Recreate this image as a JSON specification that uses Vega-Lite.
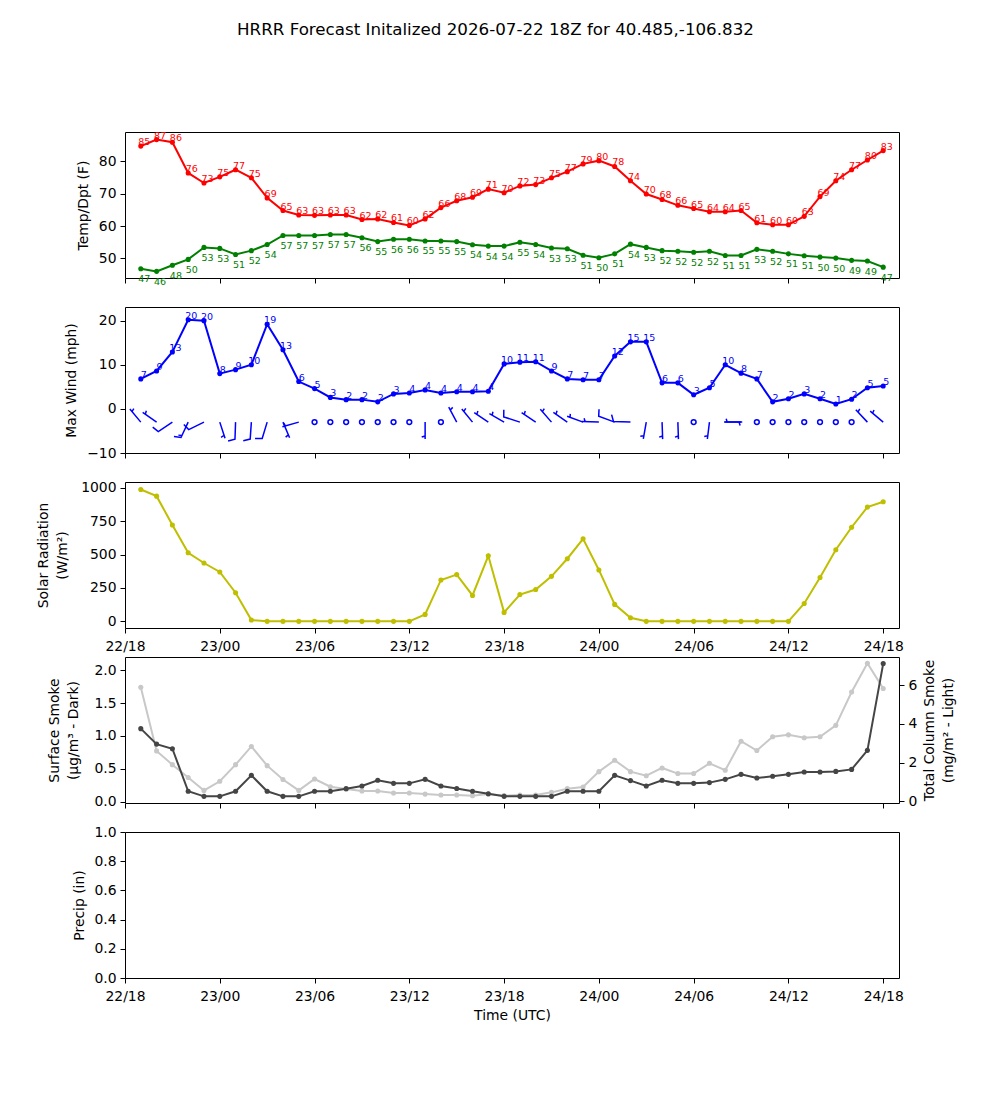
{
"$schema":"https://vega.github.io/schema/vega-lite/v6.json",
"title":{"text":"HRRR Forecast Initalized 2026-07-22 18Z for 40.485,-106.832","fontSize":16.7,"fontWeight":"normal","font":"DejaVu Sans","anchor":"middle","offset":91,"color":"#000"},
"padding":{"left":35,"top":22,"right":5,"bottom":5},
"config":{"font":"DejaVu Sans","view":{"stroke":"#000","strokeWidth":1},
"axis":{"grid":false,"domain":false,"tickColor":"#000","tickSize":5,"tickWidth":1,"labelFontSize":13.9,"labelColor":"#000","labelPadding":4,"titleFontSize":13.9,"titleFontWeight":"normal","titleColor":"#000","labelFont":"DejaVu Sans","titleFont":"DejaVu Sans","titleLineHeight":19},
"axisX":{"labelPadding":6}},
"datasets":{"d":[
{"t":"2026-07-22T19:00","temp":84.7,"dew":46.8,"wind":6.8,"solar":988,"smk":1.11,"col":5.9,"dir":320,"bk":"5"},
{"t":"2026-07-22T20:00","temp":86.7,"dew":46.0,"wind":8.6,"solar":938,"smk":0.875,"col":2.61,"dir":305,"bk":"5"},
{"t":"2026-07-22T21:00","temp":85.9,"dew":47.9,"wind":12.9,"solar":722,"smk":0.805,"col":1.90,"dir":236,"bk":"10"},
{"t":"2026-07-22T22:00","temp":76.4,"dew":49.7,"wind":20.2,"solar":514,"smk":0.157,"col":1.24,"dir":205,"bk":"15"},
{"t":"2026-07-22T23:00","temp":73.3,"dew":53.4,"wind":20.0,"solar":437,"smk":0.08,"col":0.57,"dir":244,"bk":"10"},
{"t":"2026-07-23T00:00","temp":75.2,"dew":53.1,"wind":8.0,"solar":370,"smk":0.08,"col":1.04,"dir":162,"bk":"5"},
{"t":"2026-07-23T01:00","temp":77.4,"dew":51.2,"wind":8.9,"solar":214,"smk":0.157,"col":1.90,"dir":182,"bk":"10"},
{"t":"2026-07-23T02:00","temp":74.9,"dew":52.4,"wind":10.0,"solar":10,"smk":0.40,"col":2.84,"dir":184,"bk":"10"},
{"t":"2026-07-23T03:00","temp":68.7,"dew":54.3,"wind":19.2,"solar":0,"smk":0.157,"col":1.85,"dir":197,"bk":"10"},
{"t":"2026-07-23T04:00","temp":64.8,"dew":57.1,"wind":13.4,"solar":0,"smk":0.08,"col":1.13,"dir":157,"bk":"5"},
{"t":"2026-07-23T05:00","temp":63.4,"dew":57.1,"wind":6.2,"solar":0,"smk":0.08,"col":0.57,"dir":254,"bk":"5"},
{"t":"2026-07-23T06:00","temp":63.3,"dew":57.1,"wind":4.6,"solar":0,"smk":0.157,"col":1.16,"dir":0,"bk":"c"},
{"t":"2026-07-23T07:00","temp":63.4,"dew":57.4,"wind":2.6,"solar":0,"smk":0.157,"col":0.76,"dir":0,"bk":"c"},
{"t":"2026-07-23T08:00","temp":63.4,"dew":57.4,"wind":2.1,"solar":0,"smk":0.197,"col":0.64,"dir":0,"bk":"c"},
{"t":"2026-07-23T09:00","temp":62.0,"dew":56.4,"wind":2.1,"solar":0,"smk":0.237,"col":0.54,"dir":0,"bk":"c"},
{"t":"2026-07-23T10:00","temp":62.2,"dew":55.2,"wind":1.6,"solar":0,"smk":0.324,"col":0.54,"dir":0,"bk":"c"},
{"t":"2026-07-23T11:00","temp":61.1,"dew":55.9,"wind":3.4,"solar":0,"smk":0.278,"col":0.44,"dir":0,"bk":"c"},
{"t":"2026-07-23T12:00","temp":60.2,"dew":55.9,"wind":3.6,"solar":0,"smk":0.278,"col":0.44,"dir":0,"bk":"c"},
{"t":"2026-07-23T13:00","temp":62.2,"dew":55.4,"wind":4.3,"solar":52,"smk":0.339,"col":0.38,"dir":180,"bk":"5"},
{"t":"2026-07-23T14:00","temp":65.7,"dew":55.4,"wind":3.6,"solar":310,"smk":0.237,"col":0.33,"dir":0,"bk":"c"},
{"t":"2026-07-23T15:00","temp":67.8,"dew":55.2,"wind":3.9,"solar":350,"smk":0.20,"col":0.33,"dir":332,"bk":"5"},
{"t":"2026-07-23T16:00","temp":68.9,"dew":54.2,"wind":3.9,"solar":194,"smk":0.157,"col":0.30,"dir":321,"bk":"5"},
{"t":"2026-07-23T17:00","temp":71.4,"dew":53.8,"wind":4.0,"solar":491,"smk":0.12,"col":0.38,"dir":304,"bk":"5"},
{"t":"2026-07-23T18:00","temp":70.3,"dew":53.8,"wind":10.2,"solar":67,"smk":0.08,"col":0.30,"dir":300,"bk":"5"},
{"t":"2026-07-23T19:00","temp":72.4,"dew":55.0,"wind":10.6,"solar":201,"smk":0.08,"col":0.33,"dir":288,"bk":"10"},
{"t":"2026-07-23T20:00","temp":72.8,"dew":54.3,"wind":10.7,"solar":238,"smk":0.08,"col":0.33,"dir":304,"bk":"5"},
{"t":"2026-07-23T21:00","temp":74.9,"dew":53.2,"wind":8.6,"solar":337,"smk":0.08,"col":0.47,"dir":319,"bk":"5"},
{"t":"2026-07-23T22:00","temp":76.8,"dew":53.0,"wind":6.8,"solar":469,"smk":0.157,"col":0.66,"dir":305,"bk":"5"},
{"t":"2026-07-23T23:00","temp":79.2,"dew":51.0,"wind":6.6,"solar":618,"smk":0.157,"col":0.75,"dir":290,"bk":"5"},
{"t":"2026-07-24T00:00","temp":80.2,"dew":50.2,"wind":6.6,"solar":385,"smk":0.157,"col":1.54,"dir":272,"bk":"5"},
{"t":"2026-07-24T01:00","temp":78.4,"dew":51.4,"wind":12.0,"solar":127,"smk":0.40,"col":2.13,"dir":290,"bk":"10"},
{"t":"2026-07-24T02:00","temp":74.0,"dew":54.4,"wind":15.2,"solar":27,"smk":0.32,"col":1.54,"dir":272,"bk":"10"},
{"t":"2026-07-24T03:00","temp":69.9,"dew":53.4,"wind":15.2,"solar":0,"smk":0.237,"col":1.33,"dir":190,"bk":"5"},
{"t":"2026-07-24T04:00","temp":68.2,"dew":52.4,"wind":5.9,"solar":0,"smk":0.324,"col":1.73,"dir":178,"bk":"5"},
{"t":"2026-07-24T05:00","temp":66.4,"dew":52.2,"wind":5.9,"solar":0,"smk":0.278,"col":1.44,"dir":178,"bk":"5"},
{"t":"2026-07-24T06:00","temp":65.4,"dew":51.9,"wind":3.2,"solar":0,"smk":0.278,"col":1.44,"dir":0,"bk":"c"},
{"t":"2026-07-24T07:00","temp":64.4,"dew":52.2,"wind":4.8,"solar":0,"smk":0.289,"col":1.97,"dir":187,"bk":"5"},
{"t":"2026-07-24T08:00","temp":64.4,"dew":50.9,"wind":10.0,"solar":0,"smk":0.339,"col":1.61,"dir":90,"bk":"5"},
{"t":"2026-07-24T09:00","temp":64.8,"dew":50.9,"wind":8.1,"solar":0,"smk":0.415,"col":3.11,"dir":270,"bk":"5"},
{"t":"2026-07-24T10:00","temp":61.0,"dew":52.8,"wind":6.8,"solar":0,"smk":0.359,"col":2.63,"dir":0,"bk":"c"},
{"t":"2026-07-24T11:00","temp":60.4,"dew":52.2,"wind":1.6,"solar":0,"smk":0.385,"col":3.34,"dir":0,"bk":"c"},
{"t":"2026-07-24T12:00","temp":60.4,"dew":51.4,"wind":2.3,"solar":0,"smk":0.415,"col":3.44,"dir":0,"bk":"c"},
{"t":"2026-07-24T13:00","temp":63.0,"dew":50.8,"wind":3.4,"solar":134,"smk":0.45,"col":3.29,"dir":0,"bk":"c"},
{"t":"2026-07-24T14:00","temp":69.1,"dew":50.4,"wind":2.3,"solar":328,"smk":0.45,"col":3.34,"dir":0,"bk":"c"},
{"t":"2026-07-24T15:00","temp":74.0,"dew":50.1,"wind":1.1,"solar":536,"smk":0.46,"col":3.93,"dir":0,"bk":"c"},
{"t":"2026-07-24T16:00","temp":77.4,"dew":49.4,"wind":2.2,"solar":705,"smk":0.49,"col":5.65,"dir":0,"bk":"c"},
{"t":"2026-07-24T17:00","temp":80.4,"dew":49.2,"wind":4.8,"solar":856,"smk":0.78,"col":7.14,"dir":317,"bk":"5"},
{"t":"2026-07-24T18:00","temp":83.3,"dew":47.3,"wind":5.2,"solar":896,"smk":2.10,"col":5.83,"dir":310,"bk":"5"}
]},
"spacing":29,
"bounds":"flush",
"vconcat":[
{"width":774,"height":146,"data":{"name":"d"},
"encoding":{"x":{"field":"t","type":"temporal","title":null,"scale":{"domain":[{"year":2026,"month":7,"date":22,"hours":18},{"year":2026,"month":7,"date":24,"hours":19}]},"axis":{"labels":false,"title":null,"values":[{"year":2026,"month":7,"date":22,"hours":18},{"year":2026,"month":7,"date":23,"hours":0},{"year":2026,"month":7,"date":23,"hours":6},{"year":2026,"month":7,"date":23,"hours":12},{"year":2026,"month":7,"date":23,"hours":18},{"year":2026,"month":7,"date":24,"hours":0},{"year":2026,"month":7,"date":24,"hours":6},{"year":2026,"month":7,"date":24,"hours":12},{"year":2026,"month":7,"date":24,"hours":18}]}}},
"layer":[
{"mark":{"type":"line","color":"#ff0000","strokeWidth":2,"point":{"filled":true,"size":26,"color":"#ff0000"}},"encoding":{"y":{"field":"temp","type":"quantitative","scale":{"domain":[43.95,89.05],"nice":false,"zero":false},"axis":{"values":[50,60,70,80],"title":"Temp/Dpt (F)","titleX":-42,"titleBaseline":"middle"}}}},
{"mark":{"type":"line","color":"#008000","strokeWidth":2,"point":{"filled":true,"size":26,"color":"#008000"}},"encoding":{"y":{"field":"dew","type":"quantitative","scale":{"domain":[43.95,89.05],"nice":false,"zero":false},"axis":{"values":[50,60,70,80],"title":"Temp/Dpt (F)","titleX":-42,"titleBaseline":"middle"}}}},
{"mark":{"type":"text","color":"#ff0000","dx":3.5,"dy":-4,"fontSize":9.5},"encoding":{"y":{"field":"temp","type":"quantitative","scale":{"domain":[43.95,89.05],"nice":false,"zero":false},"axis":{"values":[50,60,70,80],"title":"Temp/Dpt (F)","titleX":-42,"titleBaseline":"middle"}},"text":{"field":"temp","type":"quantitative","format":".0f"}}},
{"mark":{"type":"text","color":"#008000","dx":3.5,"dy":10.5,"fontSize":9.5},"encoding":{"y":{"field":"dew","type":"quantitative","scale":{"domain":[43.95,89.05],"nice":false,"zero":false},"axis":{"values":[50,60,70,80],"title":"Temp/Dpt (F)","titleX":-42,"titleBaseline":"middle"}},"text":{"field":"dew","type":"quantitative","format":".0f"}}}
]},
{"width":774,"height":146,"data":{"name":"d"},
"encoding":{"x":{"field":"t","type":"temporal","title":null,"scale":{"domain":[{"year":2026,"month":7,"date":22,"hours":18},{"year":2026,"month":7,"date":24,"hours":19}]},"axis":{"labels":false,"title":null,"values":[{"year":2026,"month":7,"date":22,"hours":18},{"year":2026,"month":7,"date":23,"hours":0},{"year":2026,"month":7,"date":23,"hours":6},{"year":2026,"month":7,"date":23,"hours":12},{"year":2026,"month":7,"date":23,"hours":18},{"year":2026,"month":7,"date":24,"hours":0},{"year":2026,"month":7,"date":24,"hours":6},{"year":2026,"month":7,"date":24,"hours":12},{"year":2026,"month":7,"date":24,"hours":18}]}}},
"layer":[
{"mark":{"type":"line","color":"#0000ff","strokeWidth":2,"point":{"filled":true,"size":26,"color":"#0000ff"}},"encoding":{"y":{"field":"wind","type":"quantitative","scale":{"domain":[-10,23.1],"nice":false,"zero":false},"axis":{"values":[-10,0,10,20],"title":"Max Wind (mph)","titleX":-54,"titleBaseline":"middle"}}}},
{"mark":{"type":"text","color":"#0000ff","dx":3,"dy":-4,"fontSize":9.5},"encoding":{"y":{"field":"wind","type":"quantitative","scale":{"domain":[-10,23.1],"nice":false,"zero":false},"axis":{"values":[-10,0,10,20],"title":"Max Wind (mph)","titleX":-54,"titleBaseline":"middle"}},"text":{"field":"wind","type":"quantitative","format":".0f"}}},
{"transform":[{"filter":"datum.bk != 'c'"}],"mark":{"type":"point","filled":false,"color":"#0000ff","strokeWidth":1.5,"size":1156,"opacity":1},"encoding":{"y":{"datum":-3,"type":"quantitative","scale":{"domain":[-10,23.1],"nice":false,"zero":false},"axis":{"values":[-10,0,10,20],"title":"Max Wind (mph)","titleX":-54,"titleBaseline":"middle"}},"shape":{"field":"bk","type":"nominal","legend":null,"scale":{"domain":["5","10","15","20"],"range":["M0,0L0,-1M0,-0.8125L0.2,-0.875","M0,0L0,-1L0.4,-1.125","M0,0L0,-1L0.4,-1.125M0,-0.875L0.2,-0.9375","M0,0L0,-1L0.4,-1.125M0,-0.875L0.4,-1"]}},"angle":{"field":"dir","type":"quantitative","scale":null}}},
{"transform":[{"filter":"datum.bk == 'c'"}],"mark":{"type":"point","shape":"circle","filled":false,"color":"#0000ff","strokeWidth":1.5,"size":23,"opacity":1},"encoding":{"y":{"datum":-3,"type":"quantitative","scale":{"domain":[-10,23.1],"nice":false,"zero":false},"axis":{"values":[-10,0,10,20],"title":"Max Wind (mph)","titleX":-54,"titleBaseline":"middle"}}}}
]},
{"width":774,"height":146,"data":{"name":"d"},
"mark":{"type":"line","color":"#bfbf00","strokeWidth":2,"point":{"filled":true,"size":26,"color":"#bfbf00"}},
"encoding":{"x":{"field":"t","type":"temporal","title":null,"scale":{"domain":[{"year":2026,"month":7,"date":22,"hours":18},{"year":2026,"month":7,"date":24,"hours":19}]},"axis":{"labels":true,"format":"%d/%H","labelFlush":false,"labelOverlap":false,"title":null,"values":[{"year":2026,"month":7,"date":22,"hours":18},{"year":2026,"month":7,"date":23,"hours":0},{"year":2026,"month":7,"date":23,"hours":6},{"year":2026,"month":7,"date":23,"hours":12},{"year":2026,"month":7,"date":23,"hours":18},{"year":2026,"month":7,"date":24,"hours":0},{"year":2026,"month":7,"date":24,"hours":6},{"year":2026,"month":7,"date":24,"hours":12},{"year":2026,"month":7,"date":24,"hours":18}]}},
"y":{"field":"solar","type":"quantitative","scale":{"domain":[-50,1044],"nice":false,"zero":false},"axis":{"values":[0,250,500,750,1000],"format":"d","title":["Solar Radiation","(W/m²)"],"titleX":-82,"titleBaseline":"middle"}}}},
{"width":774,"height":146,"data":{"name":"d"},
"encoding":{"x":{"field":"t","type":"temporal","title":null,"scale":{"domain":[{"year":2026,"month":7,"date":22,"hours":18},{"year":2026,"month":7,"date":24,"hours":19}]},"axis":{"labels":false,"title":null,"values":[{"year":2026,"month":7,"date":22,"hours":18},{"year":2026,"month":7,"date":23,"hours":0},{"year":2026,"month":7,"date":23,"hours":6},{"year":2026,"month":7,"date":23,"hours":12},{"year":2026,"month":7,"date":23,"hours":18},{"year":2026,"month":7,"date":24,"hours":0},{"year":2026,"month":7,"date":24,"hours":6},{"year":2026,"month":7,"date":24,"hours":12},{"year":2026,"month":7,"date":24,"hours":18}]}}},
"layer":[
{"mark":{"type":"line","color":"#c8c8c8","strokeWidth":2,"point":{"filled":true,"size":26,"color":"#c8c8c8"}},"encoding":{"y":{"field":"col","type":"quantitative","scale":{"domain":[-0.08,7.46],"nice":false,"zero":false},"axis":{"orient":"right","values":[0,2,4,6],"format":"d","title":["Total Column Smoke","(mg/m² - Light)"],"titleAngle":270,"titleX":30,"titleBaseline":"middle"}}}},
{"mark":{"type":"line","color":"#454545","strokeWidth":2,"point":{"filled":true,"size":26,"color":"#454545"}},"encoding":{"y":{"field":"smk","type":"quantitative","scale":{"domain":[-0.021,2.2],"nice":false,"zero":false},"axis":{"orient":"left","values":[0,0.5,1,1.5,2],"format":".1f","title":["Surface Smoke","(μg/m³ - Dark)"],"titleX":-71,"titleBaseline":"middle"}}}}
],
"resolve":{"scale":{"y":"independent"},"axis":{"y":"independent"}}},
{"width":774,"height":146,"data":{"name":"d"},
"mark":{"type":"point","opacity":0},
"encoding":{"x":{"field":"t","type":"temporal","title":"Time (UTC)","scale":{"domain":[{"year":2026,"month":7,"date":22,"hours":18},{"year":2026,"month":7,"date":24,"hours":19}]},"axis":{"labels":true,"format":"%d/%H","labelFlush":false,"labelOverlap":false,"title":"Time (UTC)","titlePadding":6,"values":[{"year":2026,"month":7,"date":22,"hours":18},{"year":2026,"month":7,"date":23,"hours":0},{"year":2026,"month":7,"date":23,"hours":6},{"year":2026,"month":7,"date":23,"hours":12},{"year":2026,"month":7,"date":23,"hours":18},{"year":2026,"month":7,"date":24,"hours":0},{"year":2026,"month":7,"date":24,"hours":6},{"year":2026,"month":7,"date":24,"hours":12},{"year":2026,"month":7,"date":24,"hours":18}]}},
"y":{"datum":0,"type":"quantitative","scale":{"domain":[0,1],"nice":false,"zero":false},"axis":{"values":[0,0.2,0.4,0.6,0.8,1.0],"format":".1f","title":"Precip (in)","titleX":-46,"titleBaseline":"middle"}}}}
]
}
